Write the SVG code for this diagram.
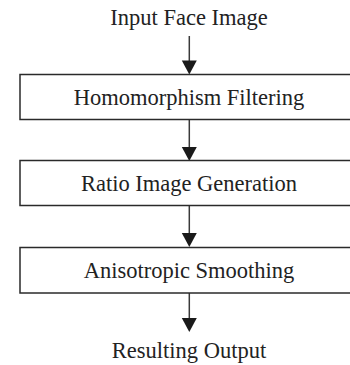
<svg xmlns="http://www.w3.org/2000/svg" width="350" height="365" viewBox="0 0 350 365">
  <style>
    .box { fill: #ffffff; stroke: #2a2a2a; stroke-width: 1.5; }
    .lbl { font-family: "Liberation Serif", "Times New Roman", serif; font-size: 22.5px; fill: #222222; text-anchor: middle; }
    .edge { stroke: #3a3a3a; stroke-width: 1.5; fill: none; }
    .head { fill: #1a1a1a; }
  </style>
  <defs>
    <path id="arrowhead" class="head" d="M-7.5,0 L7.5,0 L0,14 Z"/>
  </defs>
  <rect width="350" height="365" fill="#ffffff"/>

  <g id="connectors">
    <line class="edge" x1="189.3" y1="36" x2="189.3" y2="62"/>
    <use href="#arrowhead" x="189.3" y="60.5"/>
    <line class="edge" x1="189.3" y1="119.5" x2="189.3" y2="149"/>
    <use href="#arrowhead" x="189.3" y="147"/>
    <line class="edge" x1="189.3" y1="205.5" x2="189.3" y2="235"/>
    <use href="#arrowhead" x="189.3" y="233"/>
    <line class="edge" x1="189.3" y1="293" x2="189.3" y2="320"/>
    <use href="#arrowhead" x="189.3" y="318"/>
  </g>

  <g id="input">
    <text class="lbl" x="189" y="25">Input Face Image</text>
  </g>
  <g id="homomorphism">
    <rect class="box" x="20" y="74.5" width="338" height="45"/>
    <text class="lbl" x="189" y="104.5">Homomorphism Filtering</text>
  </g>
  <g id="ratio">
    <rect class="box" x="20" y="160.5" width="338" height="45"/>
    <text class="lbl" x="189" y="190.5">Ratio Image Generation</text>
  </g>
  <g id="smoothing">
    <rect class="box" x="20" y="247.5" width="338" height="45.5"/>
    <text class="lbl" x="189" y="277.5">Anisotropic Smoothing</text>
  </g>
  <g id="output">
    <text class="lbl" x="189" y="358">Resulting Output</text>
  </g>
</svg>
